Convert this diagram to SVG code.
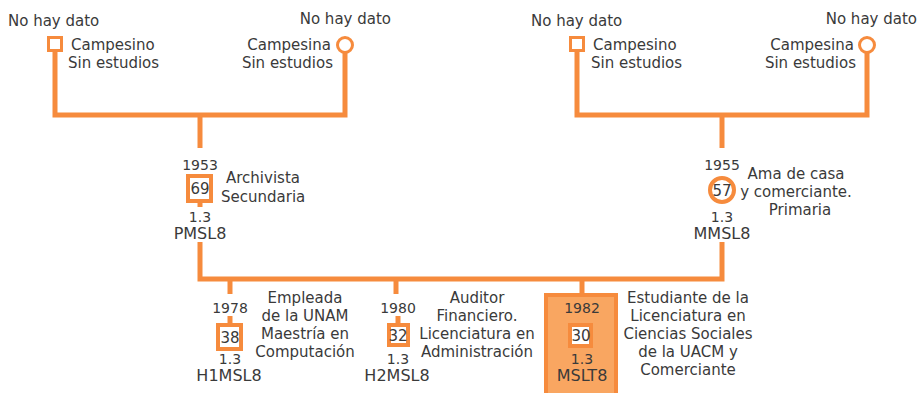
<svg xmlns="http://www.w3.org/2000/svg" width="919" height="393" viewBox="0 0 919 393">
<style>
text{font-family:"DejaVu Sans","Liberation Sans",sans-serif;font-size:15px;fill:#3a3a3a}
.c{text-anchor:middle}
.e{text-anchor:end}
.y{font-size:14px}
.k{font-size:16px}
.ln{fill:none;stroke:#F68B3D;stroke-width:5}
.sq{fill:#fff;stroke:#F68B3D;stroke-width:3}
.bx{fill:#fff;stroke:#F68B3D;stroke-width:4}
</style>
<rect width="919" height="393" fill="#fff"/>
<g id="connectors">
<path class="ln" d="M55,52 V115 H345 V53"/>
<path class="ln" d="M577,52 V115 H867 V53"/>
<path class="ln" d="M200,115 V148"/>
<path class="ln" d="M722,115 V148"/>
<path class="ln" d="M200,203 V207"/>
<path class="ln" d="M200,242 V279 H722 V242"/>
<path class="ln" d="M230,279 V294"/>
<path class="ln" d="M396,279 V294"/>
<path class="ln" d="M582,279 V294"/>
<path class="ln" d="M230,316 V324"/>
<path class="ln" d="M398,316 V324"/>
</g>
<g id="pgf">
<text x="8" y="26">No hay dato</text>
<rect class="sq" x="48.5" y="37.5" width="13" height="13"/>
<text x="71" y="50">Campesino</text>
<text x="68" y="68">Sin estudios</text>
</g>
<g id="pgm">
<text x="391" y="24" class="e">No hay dato</text>
<circle class="sq" cx="345" cy="45" r="7.5"/>
<text x="331" y="50" class="e">Campesina</text>
<text x="333" y="68" class="e">Sin estudios</text>
</g>
<g id="mgf">
<text x="531" y="26">No hay dato</text>
<rect class="sq" x="570.5" y="37.5" width="13" height="13"/>
<text x="593" y="50">Campesino</text>
<text x="591" y="68">Sin estudios</text>
</g>
<g id="mgm">
<text x="917" y="24" class="e">No hay dato</text>
<circle class="sq" cx="867" cy="45" r="7.5"/>
<text x="854" y="50" class="e">Campesina</text>
<text x="856" y="68" class="e">Sin estudios</text>
</g>
<g id="PMSL8">
<text x="200" y="170" class="c y">1953</text>
<rect class="bx" x="188" y="176" width="23" height="25"/>
<text x="200" y="194" class="c">69</text>
<text x="226" y="183">Archivista</text>
<text x="221" y="202">Secundaria</text>
<text x="200" y="222" class="c y">1.3</text>
<text x="200" y="239" class="c k">PMSL8</text>
</g>
<g id="MMSL8">
<text x="722" y="170" class="c y">1955</text>
<circle class="bx" cx="722" cy="190" r="12"/>
<text x="722" y="196" class="c">57</text>
<text x="796" y="179" class="c">Ama de casa</text>
<text x="796" y="197" class="c">y comerciante.</text>
<text x="800" y="215" class="c">Primaria</text>
<text x="722" y="222" class="c y">1.3</text>
<text x="722" y="239" class="c k">MMSL8</text>
</g>
<g id="H1MSL8">
<text x="230" y="313" class="c y">1978</text>
<rect class="bx" x="218" y="325" width="23" height="24"/>
<text x="230" y="343" class="c">38</text>
<text x="230" y="364" class="c y">1.3</text>
<text x="229" y="381" class="c k">H1MSL8</text>
<text x="305" y="303" class="c">Empleada</text>
<text x="305" y="321" class="c">de la UNAM</text>
<text x="305" y="339" class="c">Maestría en</text>
<text x="305" y="357" class="c">Computación</text>
</g>
<g id="H2MSL8">
<text x="398" y="313" class="c y">1980</text>
<rect class="bx" x="389" y="325" width="19" height="20"/>
<text x="398" y="341" class="c">32</text>
<text x="398" y="364" class="c y">1.3</text>
<text x="397" y="381" class="c k">H2MSL8</text>
<text x="477" y="303" class="c">Auditor</text>
<text x="477" y="321" class="c">Financiero.</text>
<text x="477" y="339" class="c">Licenciatura en</text>
<text x="477" y="357" class="c">Administración</text>
</g>
<g id="MSLT8">
<rect x="546" y="295" width="70" height="104" fill="#F9A661" stroke="#F68B3D" stroke-width="4"/>
<text x="582" y="313" class="c y">1982</text>
<rect class="bx" x="570" y="325" width="21" height="21"/>
<text x="581" y="341" class="c">30</text>
<text x="582" y="364" class="c y">1.3</text>
<text x="582" y="381" class="c k">MSLT8</text>
<text x="688" y="303" class="c">Estudiante de la</text>
<text x="688" y="321" class="c">Licenciatura en</text>
<text x="688" y="339" class="c">Ciencias Sociales</text>
<text x="688" y="357" class="c">de la UACM y</text>
<text x="688" y="375" class="c">Comerciante</text>
</g>
</svg>
